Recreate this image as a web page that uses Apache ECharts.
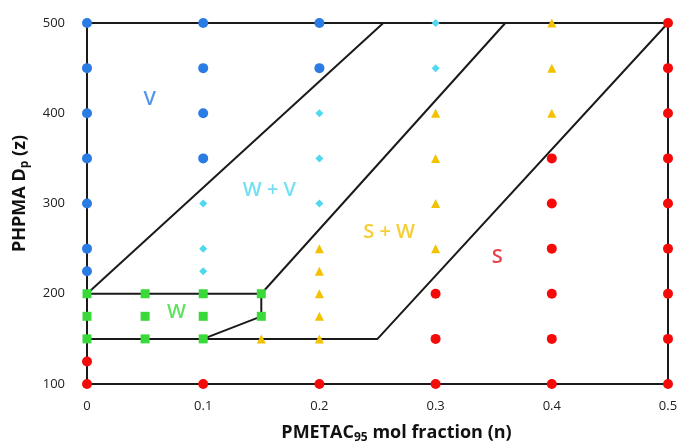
<!DOCTYPE html>
<html>
<head>
<meta charset="utf-8">
<script src="https://cdn.jsdelivr.net/npm/echarts@6/dist/echarts.min.js"></script>
<style>
  html, body { margin: 0; padding: 0; background: #fff; }
  #main { width: 680px; height: 441px; }
</style>
</head>
<body>
<div id="main"></div>
<script>
// phase points [n, z]
var vesicles = [[0,500],[0,450],[0,400],[0,350],[0,300],[0,250],[0,225],
  [0.1,500],[0.1,450],[0.1,400],[0.1,350],[0.2,500],[0.2,450]];
var wormsVes = [[0.1,300],[0.1,250],[0.1,225],[0.2,400],[0.2,350],[0.2,300],[0.3,500],[0.3,450]];
var worms = [[0,200],[0,175],[0,150],[0.05,200],[0.05,175],[0.05,150],
  [0.1,200],[0.1,175],[0.1,150],[0.15,200],[0.15,175]];
var spheresWorms = [[0.15,150],[0.2,250],[0.2,225],[0.2,200],[0.2,175],[0.2,150],
  [0.3,400],[0.3,350],[0.3,300],[0.3,250],[0.4,500],[0.4,450],[0.4,400]];
var spheres = [[0,125],[0,100],[0.1,100],[0.2,100],[0.3,200],[0.3,150],[0.3,100],
  [0.4,350],[0.4,300],[0.4,250],[0.4,200],[0.4,150],[0.4,100],
  [0.5,500],[0.5,450],[0.5,400],[0.5,350],[0.5,300],[0.5,250],[0.5,200],[0.5,150],[0.5,100]];

// phase boundaries
var frame = [[0,100],[0.5,100],[0.5,500],[0,500],[0,100]];
var boundVW = [[0,200],[0.255,500]];
var boundW = [[0,200],[0.15,200],[0.15,175],[0.1,150]];
var boundWS = [[0.15,200],[0.36,500]];
var boundSW = [[0,150],[0.25,150],[0.5,500]];

// region labels
var regionLabels = [
  {name: 'V', value: [0.054, 415], color: '#2a7be4'},
  {name: 'W + V', value: [0.157, 315], color: '#4fd8ee'},
  {name: 'S + W', value: [0.26, 268], color: '#f2c200'},
  {name: 'S', value: [0.353, 240], color: '#e3101e'},
  {name: 'W', value: [0.077, 179], color: '#3ad93a'}
];

var xTicks = ['0','0.1','0.2','0.3','0.4','0.5'];

var chart = echarts.init(document.getElementById('main'));

function lineSeries(d) {
  return {
    type: 'line', data: d, symbol: 'none', z: 1, silent: true,
    lineStyle: {color: '#1a1a1a', width: 2}
  };
}

function pts(d, sym, size, color) {
  return {
    type: 'scatter', data: d, symbol: sym, symbolSize: size, z: 3,
    itemStyle: {color: color, opacity: 1}
  };
}

var nameRich = {
  b: {fontSize: 18, fontWeight: 'bold', color: '#111', fontFamily: 'Open Sans'},
  sub: {fontSize: 12, fontWeight: 'bold', color: '#111', fontFamily: 'Open Sans', verticalAlign: 'bottom', padding: [10, 0, 0, 0]}
};

var option = {
  animation: false,
  textStyle: {fontFamily: 'Open Sans'},
  grid: {left: 87, right: 12, top: 23, bottom: 57, containLabel: false, outerBoundsMode: 'none'},
  xAxis: {
    type: 'value', min: 0, max: 0.5, interval: 0.1,
    splitLine: {show: false}, axisTick: {show: false}, axisLine: {show: false},
    axisLabel: {
      color: '#222', fontSize: 13, margin: 16,
      formatter: function (v) { return xTicks[Math.round(v * 10)]; }
    },
    name: '{b|PMETAC}{sub|95}{b| mol fraction (n)}',
    nameLocation: 'middle', nameGap: 38,
    nameTextStyle: {rich: nameRich, padding: [0, 0, 0, 38]}
  },
  yAxis: {
    type: 'value', min: 100, max: 500, interval: 100,
    splitLine: {show: false}, axisTick: {show: false}, axisLine: {show: false},
    axisLabel: {color: '#222', fontSize: 13, margin: 22},
    name: '{b|PHPMA D}{sub|p}{b| (z)}',
    nameLocation: 'middle', nameGap: 56,
    nameTextStyle: {rich: nameRich, padding: [0, 0, 0, 20]}
  },
  series: [
    lineSeries(frame),
    lineSeries(boundVW),
    lineSeries(boundW),
    lineSeries(boundWS),
    lineSeries(boundSW),
    pts(vesicles, 'circle', 10, '#2a7be4'),
    pts(wormsVes, 'diamond', 8, '#4fd8ee'),
    pts(worms, 'rect', 9, '#3ad93a'),
    pts(spheresWorms, 'triangle', 9, '#f2c200'),
    pts(spheres, 'circle', 10, '#f50a0a'),
    {
      type: 'scatter', symbolSize: 0, z: 4, silent: true,
      data: regionLabels.map(function (r) {
        return {
          name: r.name, value: r.value,
          label: {
            show: true, position: 'inside', formatter: '{b}',
            color: r.color, fontSize: 20, fontWeight: 600, fontFamily: 'Open Sans'
          }
        };
      })
    }
  ]
};
chart.setOption(option);
</script>
</body>
</html>
